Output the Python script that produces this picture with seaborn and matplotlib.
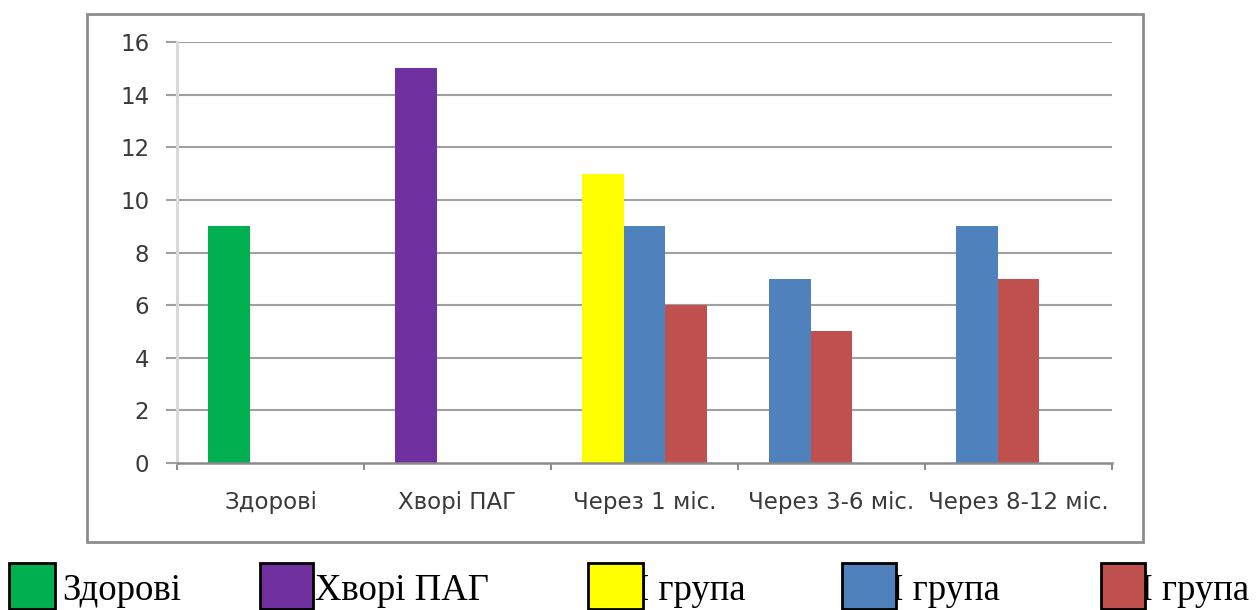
import matplotlib
matplotlib.use("Agg")
import matplotlib.pyplot as plt
from matplotlib.patches import Rectangle
import pandas as pd
import seaborn as sns

# Categories on the x axis
categories = ["Здорові", "Хворі ПАГ", "Через 1 міс.", "Через 3-6 міс.", "Через 8-12 міс."]

# One entry per bar: category, series group, position slot within the category, value
bar_category = ["Здорові", "Хворі ПАГ", "Через 1 міс.", "Через 1 міс.", "Через 1 міс.",
                "Через 3-6 міс.", "Через 3-6 міс.", "Через 8-12 міс.", "Через 8-12 міс."]
bar_group = ["Здорові", "Хворі ПАГ", "І група", "ІІ група", "ІІІ група",
             "ІІ група", "ІІІ група", "ІІ група", "ІІІ група"]
bar_slot = ["a", "a", "a", "b", "c", "a", "b", "a", "b"]
bar_value = [9, 15, 11, 9, 6, 7, 5, 9, 7]

groups = ["Здорові", "Хворі ПАГ", "І група", "ІІ група", "ІІІ група"]
group_colors = ["#00B050", "#7030A0", "#FFFF00", "#4F81BD", "#C0504D"]
slots = ["a", "b", "c"]
y_ticks = [0, 2, 4, 6, 8, 10, 12, 14, 16]

df = pd.DataFrame({"category": bar_category, "group": bar_group,
                   "slot": bar_slot, "value": bar_value})

sns.set_theme(style="white")
plt.rcParams["font.family"] = ["DejaVu Sans"]

W, H = 1260, 610
fig = plt.figure(figsize=(W / 100, H / 100), dpi=100)
fig.patch.set_facecolor("white")
ax = fig.add_axes([177 / W, 1 - 463 / H, (1112 - 177) / W, (463 - 42) / H])

for g, c in zip(groups, group_colors):
    sub = df[df["group"] == g]
    sns.barplot(data=sub, x="category", y="value", hue="slot",
                order=categories, hue_order=slots, palette=[c] * len(slots),
                width=0.667, dodge=True, errorbar=None, saturation=1,
                linewidth=0, legend=False, ax=ax, zorder=3)

ax.set_xlim(-0.5, len(categories) - 0.5)
ax.set_ylim(0, 16)
ax.set_yticks(y_ticks)
ax.set_xlabel("")
ax.set_ylabel("")

# Gridlines
for yv in y_ticks[1:]:
    ax.axhline(yv, color="#A0A0A0", lw=1.5, zorder=1)

for s in ["top", "right"]:
    ax.spines[s].set_visible(False)
ax.spines["left"].set_color("#D9D9D9")
ax.spines["left"].set_linewidth(2.2)
ax.spines["bottom"].set_color("#8A8A8A")
ax.spines["bottom"].set_linewidth(1.8)
ax.spines["bottom"].set_zorder(4)

ax.tick_params(axis="y", direction="out", length=8, width=1.5, color="#A0A0A0",
               pad=12, labelsize=16.5, labelcolor="#3A3A3A", left=True)
ax.set_xticks(range(len(categories)))
ax.set_xticklabels(categories)
ax.set_xticks([i - 0.5 for i in range(len(categories) + 1)], minor=True)
ax.tick_params(axis="x", which="major", length=0, pad=20, labelsize=16.5, labelcolor="#3A3A3A")
ax.tick_params(axis="x", which="minor", direction="out", length=5, width=1.4,
               color="#8A8A8A", bottom=True)

# Chart frame
fig.add_artist(Rectangle((87 / W, 1 - 542 / H), (1143 - 87) / W, (542 - 14) / H,
                         transform=fig.transFigure, fill=False,
                         edgecolor="#8C8C8C", lw=2, zorder=0))

# Legend under the frame; the colour boxes sit over the start of the group labels
legend_text_x = [62, 315, 637, 879, 1116]
legend_box_x = [(9, 55), (260, 313), (588, 643), (842, 896), (1101, 1145)]
for g, c, tx, (x0, x1) in zip(groups, group_colors, legend_text_x, legend_box_x):
    fig.text(tx / W, 1 - 600 / H, g, fontsize=26.5, va="baseline", ha="left",
             family=["Liberation Serif"], color="black", zorder=3)
    fig.add_artist(Rectangle((x0 / W, 1 - 609 / H), (x1 - x0) / W, 46 / H,
                             transform=fig.transFigure, facecolor=c,
                             edgecolor="black", lw=2, zorder=5))

fig.savefig("out.png", dpi=100, facecolor="white")
